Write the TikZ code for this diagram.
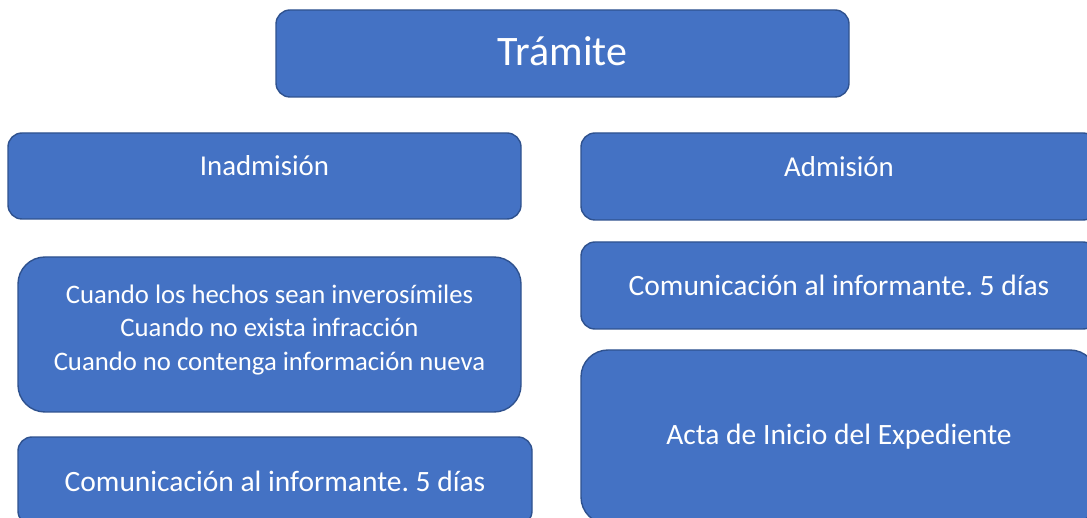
\documentclass[tikz,border=0pt]{standalone}
\usepackage{fontspec}
\setmainfont{Carlito}
\frenchspacing
\definecolor{boxblue}{RGB}{68,114,196}
\definecolor{boxedge}{RGB}{47,82,143}
\tikzstyle{bluebox}=[draw=boxedge,fill=boxblue,line width=1.4pt,text=white,rounded corners=14pt,align=center,inner sep=0pt]
\tikzstyle{tallbox}=[bluebox,rounded corners=27pt]
\tikzstyle{headtext}=[font=\fontsize{28.8}{34}\selectfont,text height=12pt,text depth=12pt]
\tikzstyle{bodytext}=[font=\fontsize{29.5}{35}\selectfont]

\begin{document}
\begin{tikzpicture}[x=1pt,y=1pt]
  \useasboundingbox (0,0) rectangle (1087,517);
  \clip (0,0) rectangle (1087,517);

  \node[bluebox,minimum width=573pt,minimum height=87pt,font=\fontsize{42}{48}\selectfont,text depth=4pt] (tramite) at (562.5,463.5) {Trámite};

  % left column
  \node[bluebox,headtext,minimum width=513pt,minimum height=86pt] (inadmision) at (264.5,341) {Inadmisión};
  \node[tallbox,minimum width=503pt,minimum height=155pt,font=\fontsize{26.7}{33.5}\selectfont,text depth=14pt] (supuestos) at (269.5,182.5)
    {Cuando los hechos sean inverosímiles\\Cuando no exista infracción\\Cuando no contenga información nueva};
  \node[bluebox,bodytext,minimum width=514pt,minimum height=88pt] (comizq) at (275,36) {Comunicación al informante. 5 días};

  % right column
  \node[bluebox,headtext,minimum width=516pt,minimum height=87pt] (admision) at (839,340.5) {Admisión};
  \node[bluebox,bodytext,minimum width=516pt,minimum height=87pt] (comder) at (839,231.5) {Comunicación al informante. 5 días};
  \node[tallbox,bodytext,minimum width=516pt,minimum height=174pt] (acta) at (839,80) {Acta de Inicio del Expediente};
\end{tikzpicture}
\end{document}
